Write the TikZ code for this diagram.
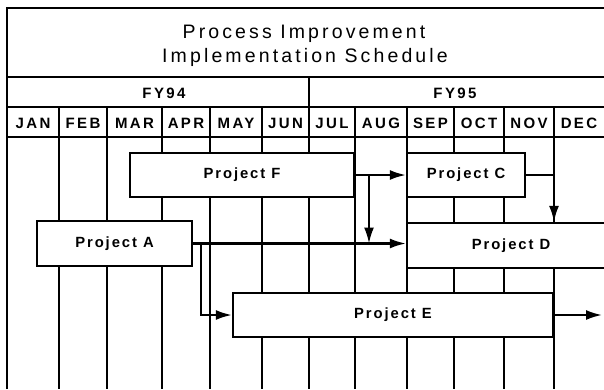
\documentclass[tikz,border=0pt]{standalone}
\usepackage{fontspec}
\setmainfont{Liberation Sans}
\newfontfamily\titlefont[LetterSpace=16]{Liberation Sans}
\newfontfamily\labfont[LetterSpace=16]{Liberation Sans}
\newfontfamily\projfont[LetterSpace=13]{Liberation Sans}
\usetikzlibrary{arrows.meta}
\tikzset{
  grid/.style={line width=2.1pt},
  frame/.style={line width=2.4pt},
  box/.style={draw, fill=white, line width=2.3pt, inner sep=0pt,
    font=\projfont\bfseries\fontsize{14.8}{16}\selectfont},
  hdr/.style={inner sep=0pt, font=\labfont\bfseries\fontsize{15}{16}\selectfont},
  ttl/.style={inner sep=0pt, anchor=base, font=\titlefont\fontsize{19.5}{22}\selectfont},
  conn/.style={line width=2.1pt},
  arr/.style={conn, -{Latex[length=16pt,width=10pt]}}
}
\begin{document}
\begin{tikzpicture}[x=1pt,y=-1pt]
\useasboundingbox (0,0) rectangle (604,389);
% frame and header rules
\draw[frame] (7,389) -- (7,8) -- (604,8);
\draw[frame] (7,77) -- (604,77);
\draw[frame] (7,107) -- (604,107);
\draw[frame] (7,137) -- (604,137);
\draw[frame] (309,77) -- (309,107);
% month dividers
\foreach \x in {59,107,162,210,262,309,355,407,454,504,554}
  \draw[grid] (\x,107) -- (\x,389);
% title
\node[ttl] (t1) at (304,38) {Process Improvement};
\node[ttl] (t2) at (305,62) {Implementation Schedule};
% fiscal years
\node[hdr] (fy94) at (164,93) {FY94};
\node[hdr] (fy95) at (455,93) {FY95};
% months
\foreach \c/\m [count=\i] in {33/JAN,83/FEB,134.5/MAR,186/APR,236/MAY,285.5/JUN,332/JUL,381/AUG,430.5/SEP,479/OCT,529/NOV,579/DEC}
  \node[hdr] (m\i) at (\c,123) {\m};
% project boxes
\node[box, minimum width=224pt, minimum height=44pt] (F) at (242,175) {Project F};
\node[box, minimum width=118pt, minimum height=44pt] (C) at (466,175) {Project C};
\node[box, minimum width=155pt, minimum height=45pt] (A) at (114.5,243.5) {Project A};
\node[box, minimum width=208pt, minimum height=45pt] (D) at (511,245.5) {Project D};
\node[box, minimum width=320pt, minimum height=44pt] (E) at (393,315) {Project E};
% connectors
\coordinate (fc) at (369,175);
\coordinate (cd) at (554,175);
\coordinate (ae) at (201,243.5);
\coordinate (eout) at (602,315);
\draw[arr] (F.east) -- (C.west);
\draw[arr] (fc) -- (fc |- A.east);
\draw[conn] (C.east) -- (cd);
\draw[arr] (cd) -- (cd |- D.north);
\draw[arr] (A.east) -- (A.east -| D.west);
\draw[arr] (ae) |- (E.west);
\draw[arr] (E.east) -- (eout);
\end{tikzpicture}
\end{document}
